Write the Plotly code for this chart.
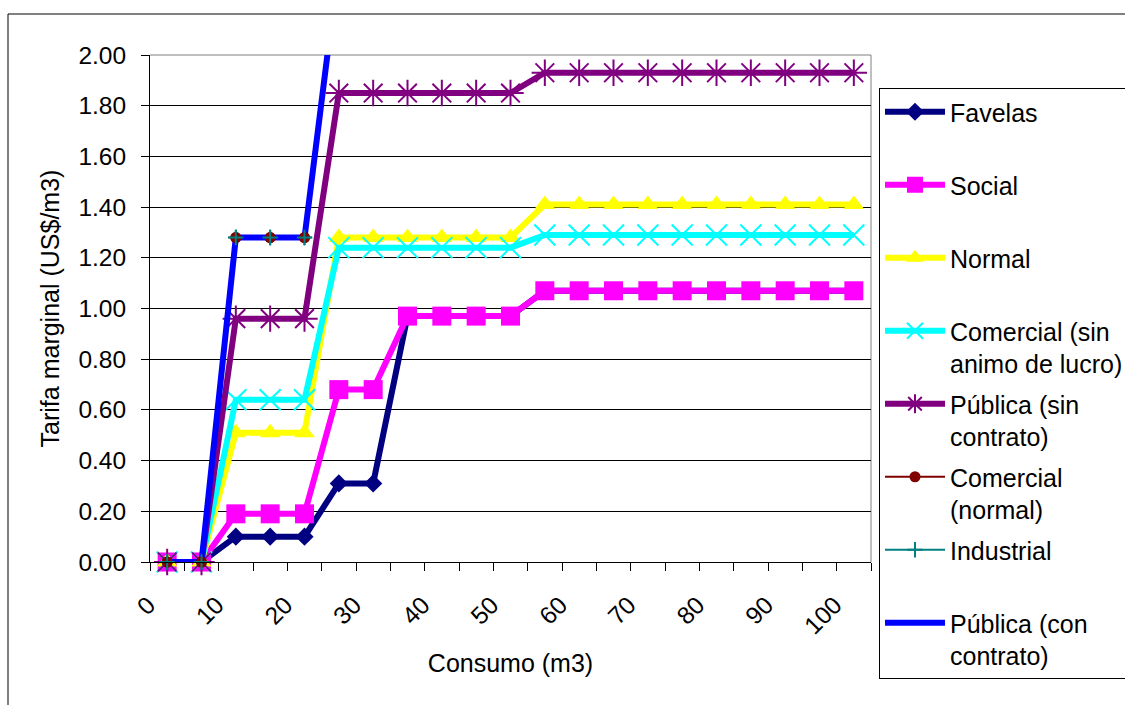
import plotly.graph_objects as go

# ---- data ----
consumo = [0, 5, 10, 15, 20, 25, 30, 35, 40, 45, 50, 55, 60, 65, 70, 75, 80, 85, 90, 95, 100]
tick_vals = [0, 10, 20, 30, 40, 50, 60, 70, 80, 90, 100]
tick_text = ["0", "10", "20", "30", "40", "50", "60", "70", "80", "90", "100"]

favelas = [0, 0, 0.10, 0.10, 0.10, 0.31, 0.31, 0.97, 0.97, 0.97, 0.97,
           1.07, 1.07, 1.07, 1.07, 1.07, 1.07, 1.07, 1.07, 1.07, 1.07]
social = [0, 0, 0.19, 0.19, 0.19, 0.68, 0.68, 0.97, 0.97, 0.97, 0.97,
          1.07, 1.07, 1.07, 1.07, 1.07, 1.07, 1.07, 1.07, 1.07, 1.07]
normal = [0, 0, 0.51, 0.51, 0.51, 1.28, 1.28, 1.28, 1.28, 1.28, 1.28,
          1.41, 1.41, 1.41, 1.41, 1.41, 1.41, 1.41, 1.41, 1.41, 1.41]
comercial_sin = [0, 0, 0.64, 0.64, 0.64, 1.24, 1.24, 1.24, 1.24, 1.24, 1.24,
                 1.29, 1.29, 1.29, 1.29, 1.29, 1.29, 1.29, 1.29, 1.29, 1.29]
publica_sin = [0, 0, 0.96, 0.96, 0.96, 1.85, 1.85, 1.85, 1.85, 1.85, 1.85,
               1.93, 1.93, 1.93, 1.93, 1.93, 1.93, 1.93, 1.93, 1.93, 1.93]
comercial_normal = [0, 0, 1.28, 1.28, 1.28, 2.36, 2.36, 2.36, 2.36, 2.36, 2.36,
                    2.50, 2.50, 2.50, 2.50, 2.50, 2.50, 2.50, 2.50, 2.50, 2.50]
industrial = [0, 0, 1.28, 1.28, 1.28, 2.36, 2.36, 2.36, 2.36, 2.36, 2.36,
              2.50, 2.50, 2.50, 2.50, 2.50, 2.50, 2.50, 2.50, 2.50, 2.50]
publica_con = [0, 0, 1.28, 1.28, 1.28, 2.36, 2.36, 2.36, 2.36, 2.36, 2.36,
               2.50, 2.50, 2.50, 2.50, 2.50, 2.50, 2.50, 2.50, 2.50, 2.50]

NB = "\u00a0"
FONT = "Liberation Sans, Arial, sans-serif"

fig = go.Figure()

def add(name, y, color, width, symbol, size, rank, mline=0, mode="lines+markers",
        showlegend=True):
    fig.add_trace(go.Scatter(
        x=consumo, y=y, name=name, mode=mode,
        line=dict(color=color, width=width),
        marker=dict(symbol=symbol, size=size, color=color,
                    line=dict(color=color, width=mline)),
        cliponaxis=False, legendrank=rank, legendgroup=str(rank),
        showlegend=showlegend,
    ))

# drawing order (legend order via legendrank)
add("Favelas<br>" + NB, favelas, "#000080", 6, "diamond", 14, 1)
add("Social<br>" + NB, social, "#FF00FF", 6, "square", 19, 2)
add("Normal<br>" + NB, normal, "#FFFF00", 6, "triangle-up", 18, 3)
add("Comercial (sin<br>animo de lucro)", comercial_sin, "#00FFFF", 6, "x-thin", 21, 4, mline=2)
add("Pública (sin<br>contrato)", publica_sin, "#800080", 6, "asterisk", 22, 5, mline=2)
add("Comercial<br>(normal)", comercial_normal, "#800000", 2, "circle", 11, 6)
add("Industrial<br>" + NB, industrial, "#008080", 2, "cross-thin", 11, 7, mline=2)
add("Pública (con<br>contrato)", publica_con, "#0000FF", 6, "circle", 1, 8, mode="lines")
# markers of the two thin series drawn above the thick blue line (as in the original)
add("Comercial<br>(normal)", comercial_normal, "#800000", 2, "circle", 11, 6,
    mode="markers", showlegend=False)
add("Industrial<br>" + NB, industrial, "#008080", 2, "cross-thin", 11, 7, mline=2,
    mode="markers", showlegend=False)

# plot area on screen: x 150..871 px, y 55..562 px
def px_x(p):
    return (p - 150) / 721.0

def px_y(p):
    return (562 - p) / 507.0

fig.update_layout(
    width=1125, height=705,
    margin=dict(l=150, r=254, t=55, b=143, autoexpand=False),
    paper_bgcolor="white", plot_bgcolor="white",
    font=dict(family=FONT, size=24, color="black"),
    showlegend=True,
    legend=dict(
        x=px_x(879), y=px_y(88), xanchor="left", yanchor="top",
        bordercolor="black", borderwidth=1, bgcolor="white",
        font=dict(family=FONT, size=25, color="black"),
        itemwidth=60, tracegroupgap=5, valign="top", maxheight=700,
    ),
    shapes=[
        dict(type="rect", xref="paper", yref="paper",
             x0=px_x(8), x1=px_x(1140), y0=px_y(14), y1=px_y(712),
             line=dict(color="black", width=1), layer="below"),
        dict(type="line", xref="paper", yref="paper", x0=0, x1=1, y0=1, y1=1,
             line=dict(color="#808080", width=1), layer="between"),
        dict(type="line", xref="paper", yref="paper", x0=1, x1=1, y0=0, y1=1,
             line=dict(color="#808080", width=1), layer="between"),
    ],
)

fig.update_xaxes(
    automargin=False,
    range=[-2.5, 102.5], tickmode="array", tickvals=tick_vals, ticktext=tick_text,
    tickangle=-45, ticks="", showgrid=False, zeroline=False,
    ticklabelstandoff=18, ticklabelshift=-19,
    showline=True, linecolor="black", linewidth=1,
    tickfont=dict(family=FONT, size=24.5, color="black"),
    minor=dict(ticks="outside", tickmode="linear", tick0=-2.5, dtick=5,
               ticklen=8, tickcolor="black", tickwidth=1, showgrid=False),
    title=dict(text="Consumo (m3)", font=dict(family=FONT, size=25, color="black"), standoff=16),
)
fig.update_yaxes(
    automargin=False,
    range=[0, 2.0], tickmode="linear", tick0=0, dtick=0.2, tickformat=".2f",
    ticks="outside", ticklen=8, tickcolor="black", tickwidth=1,
    ticklabelstandoff=10,
    showgrid=True, gridcolor="#000000", gridwidth=1, zeroline=False,
    showline=True, linecolor="black", linewidth=1,
    tickfont=dict(family=FONT, size=24.5, color="black"),
    title=dict(text="Tarifa marginal (US$/m3)", font=dict(family=FONT, size=25, color="black"), standoff=11),
)

fig.write_html(
    "out.html",
    config={"displayModeBar": False},
    post_script="document.body.style.margin='0px';document.body.style.overflow='hidden';",
)
